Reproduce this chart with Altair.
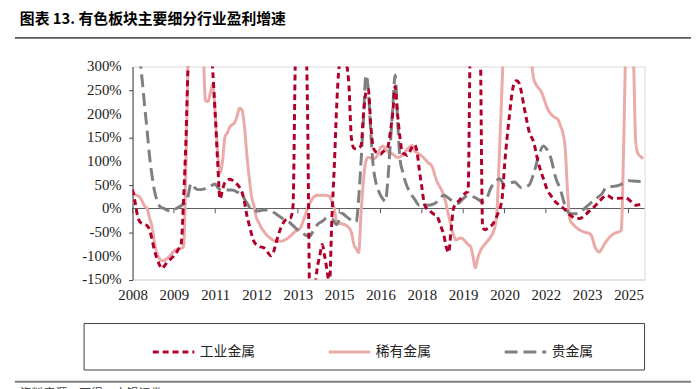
import altair as alt
import pandas as pd

# ---------------- data ----------------
title_text = "图表 13. 有色板块主要细分行业盈利增速"
source_text = "资料来源：万得，中银证券"
series_names = ["工业金属", "稀有金属", "贵金属"]
series_colors = ["#B0002A", "#EBAAA8", "#7F7F7F"]
series_dash = [[6, 4], [1, 0], [13, 6]]
y_ticks = [-150, -100, -50, 0, 50, 100, 150, 200, 250, 300]
start_year, start_month = 2008, 3           # month index 0 = 2008-03
x_tick_months = [0, 17, 34, 51, 68, 85, 102, 119, 136, 153, 170, 187, 204]

# 工业金属 (months since 2008-03, growth %)
ind_m = [0, 1, 2, 3, 5, 6, 7, 8, 9, 10, 11, 12, 13, 14, 15, 16, 17, 18, 19, 20,
         21, 22, 23, 24, 26, 28, 30, 32, 33, 34, 35, 36, 37, 38, 40, 42, 44, 45, 46, 47,
         48, 49, 50, 52, 54, 55, 57, 58, 59, 61, 63, 65, 66, 67, 68, 70, 71, 72, 73, 74,
         75, 76, 77, 78, 79, 80, 81, 82, 83, 84, 85, 86, 87, 88, 89, 90, 91, 92, 93, 94,
         95, 96, 97, 98, 99, 100, 101, 102, 103, 104, 105, 106, 107, 108, 109, 110, 111, 112, 113, 114,
         115, 116, 117, 118, 119, 120, 121, 122, 123, 124, 125, 126, 127, 128, 129, 130, 131, 132, 133, 134,
         135, 136, 137, 138, 139, 140, 142, 143, 144, 145, 146, 147, 148, 149, 150, 152, 153, 155, 156, 157,
         158, 159, 160, 161, 162, 163, 165, 167, 169, 171, 172, 174, 176, 178, 180, 182, 184, 186, 188, 190,
         192, 195, 198, 201, 203, 205, 207, 209, 210]
ind_v = [40, 15, -14, -28, -34, -36, -45, -65, -88, -105, -118, -127, -122, -115, -110, -105, -100, -93, -85, -75,
         20, 150, 330, 430, 500, 520, 480, 360, 290, 200, 100, 20, 40, 55, 62, 56, 45, 35, 15, -14,
         -35, -55, -70, -80, -83, -88, -100, -92, -73, -41, -24, -20, 5, 330, 480, 480, 430, 200, -220, -230,
         -170, -125, -100, -76, -100, -130, -160, -20, 90, 220, 300, 315, 315, 305, 260, 150, 128, 126, 128, 133,
         200, 245, 252, 175, 130, 120, 118, 115, 120, 124, 130, 160, 200, 258, 200, 150, 118, 115, 112, 120,
         130, 135, 120, 80, 45, 10, 0, -3, -8, -12, -14, -25, -40, -55, -80, -93, -48, 0, 10, 15,
         21, 28, 33, 36, 400, 550, 550, 380, -40, -45, -42, -38, -34, -25, -14, 21, 90, 195, 240, 265,
         270, 265, 245, 216, 190, 165, 140, 95, 63, 35, 28, 14, 6, -3, -14, -20, -21, -14, -5, 4,
         15, 28, 21, 22, 22, 15, 7, 9, 11]

# 稀有金属
rare_m = [0, 1, 3, 4, 5, 6, 7, 8, 9, 10, 11, 12, 13, 14, 15, 16, 17, 18, 19, 20,
          21, 22, 23, 24, 26, 28, 29, 30, 31, 32, 33, 34, 35, 36, 37, 38, 39, 40, 42, 43,
          44, 45, 46, 47, 48, 49, 50, 51, 52, 53, 54, 55, 56, 57, 59, 61, 64, 67, 69, 71,
          72, 74, 76, 79, 81, 82, 83, 84, 86, 88, 90, 91, 92, 93, 94, 95, 96, 97, 99, 101,
          102, 103, 104, 105, 107, 109, 111, 113, 114, 115, 116, 118, 120, 122, 123, 125, 127, 128, 130, 132,
          133, 135, 137, 138, 139, 140, 141, 142, 143, 145, 147, 149, 150, 151, 152, 153, 155, 158, 161, 163,
          164, 165, 166, 168, 171, 173, 175, 176, 177, 178, 179, 180, 181, 183, 186, 188, 189, 190, 191, 192,
          193, 194, 196, 198, 200, 201, 202, 203, 205, 206, 207, 208, 209, 210]
rare_v = [35, 30, 24, 15, 5, 0, -20, -38, -70, -94, -105, -110, -110, -106, -102, -96, -90, -87, -85, -84,
          -80, 100, 350, 450, 500, 450, 350, 228, 226, 245, 262, 200, 120, 76, 100, 150, 160, 172, 182, 195,
          212, 208, 175, 115, 65, 25, 5, -20, -30, -41, -48, -55, -60, -64, -69, -69, -62, -48, -41, -14,
          0, 21, 28, 28, 26, 14, 0, -30, -32, -36, -50, -75, -85, -93, -10, 60, 100, 108, 105, 115,
          129, 132, 126, 120, 115, 108, 112, 125, 130, 133, 122, 115, 106, 95, 91, 60, 40, 28, -14, -55,
          -66, -62, -70, -76, -80, -100, -125, -105, -90, -75, -62, -40, 5, 130, 260, 400, 550, 600, 550, 420,
          320, 275, 262, 248, 208, 195, 188, 175, 160, 125, 30, -25, -32, -42, -50, -53, -60, -78, -88, -92,
          -85, -76, -62, -53, -49, -46, 130, 360, 450, 330, 140, 115, 110, 105]

# 贵金属
prec_m = [0, 1, 2, 3, 4, 5, 6, 7, 8, 9, 10, 11, 12, 13, 14, 15, 16, 17, 18, 19,
          20, 21, 22, 23, 24, 25, 26, 27, 28, 29, 30, 31, 32, 33, 34, 35, 36, 37, 39, 41,
          43, 45, 47, 49, 50, 52, 54, 56, 58, 60, 62, 64, 66, 68, 70, 72, 73, 74, 76, 78,
          80, 82, 84, 86, 88, 90, 92, 93, 94, 95, 96, 97, 98, 99, 100, 101, 102, 103, 104, 105,
          106, 107, 108, 109, 110, 111, 112, 114, 116, 118, 121, 124, 126, 128, 131, 134, 136, 138, 140, 142,
          144, 146, 147, 149, 151, 153, 155, 157, 160, 163, 165, 167, 169, 170, 172, 174, 176, 178, 180, 183,
          185, 187, 189, 191, 193, 195, 198, 200, 202, 204, 206, 209]
prec_v = [600, 500, 400, 320, 270, 215, 165, 110, 70, 38, 18, 6, 2, 0, -3, -5, -6, -3, 0, 3,
          6, 10, 13, 30, 53, 48, 42, 40, 40, 41, 42, 45, 47, 50, 52, 45, 40, 39, 39, 39,
          35, 28, 12, -3, -5, -5, -3, -3, -8, -15, -22, -27, -36, -45, -52, -58, -58, -50, -34, -27,
          -20, -22, -34, -10, -17, -25, -28, 20, 100, 190, 282, 250, 160, 90, 57, 40, 28, 20, 15, 60,
          133, 210, 282, 190, 105, 80, 60, 35, 20, 7, 7, 10, 18, 28, 18, 11, 21, 28, 25, 20,
          14, 25, 39, 55, 63, 49, 53, 56, 44, 49, 74, 110, 132, 128, 108, 66, 40, 5, -11, -11,
          -4, 5, 14, 22, 31, 45, 47, 49, 54, 59, 58, 57]


def month_label(i):
    t = (start_month - 1) + i
    return f"{start_year + t // 12}-{t % 12 + 1:02d}"


rows = []
for name, ms, vs in zip(series_names, [ind_m, rare_m, prec_m], [ind_v, rare_v, prec_v]):
    for m, v in zip(ms, vs):
        rows.append({"series": name, "t": m, "month": month_label(m), "v": v})
df = pd.DataFrame(rows)

# ---------------- chart ----------------
W, H = 518, 215.5
x_scale = alt.Scale(domain=[0, 210.6], nice=False, zero=False)
y_scale = alt.Scale(domain=[-150, 300], nice=False, zero=False)

legend_cfg = alt.Legend(
    title=None, orient="none", legendX=19, legendY=266, direction="horizontal",
    symbolType="stroke", symbolSize=1764, symbolStrokeWidth=3,
    labelFont="Noto Sans CJK SC", labelFontSize=14, labelColor="#222222",
    labelOffset=4, columnPadding=68, padding=0,
)

color_enc = alt.Color("series:N", scale=alt.Scale(domain=series_names, range=series_colors), legend=legend_cfg)
dash_enc = alt.StrokeDash("series:N", scale=alt.Scale(domain=series_names, range=series_dash), legend=legend_cfg)

x_axis = alt.Axis(values=x_tick_months, labelExpr="floor(2008 + (2 + datum.value) / 12)",
                  ticks=False, domainColor="#D9D9D9", domainWidth=1, labelFont="Liberation Serif",
                  labelFontSize=15, labelColor="#1a1a1a", labelPadding=8, grid=False, title=None,
                  labelFlush=False, labelOverlap=False)
y_axis = alt.Axis(values=y_ticks, labels=False, domainColor="#404040",
                  tickColor="#404040", tickSize=4, grid=False, title=None)

X = alt.X("t:Q", scale=x_scale, axis=x_axis)
Y = alt.Y("v:Q", scale=y_scale, axis=y_axis)

one = pd.DataFrame({"a": [0]})

zero_rule = alt.Chart(pd.DataFrame({"v": [0]})).mark_rule(color="#595959", strokeWidth=1).encode(y=Y)
zero_ticks = alt.Chart(pd.DataFrame({"t": x_tick_months})).mark_rule(color="#595959", strokeWidth=1).encode(
    x=X, y=alt.datum(0), y2=alt.datum(-10),
)
y_labels = alt.Chart(pd.DataFrame({"v": y_ticks})).transform_calculate(
    lab="datum.v + '%'"
).mark_text(align="right", baseline="middle", font="Liberation Serif", fontSize=15, color="#1a1a1a").encode(
    y=Y, x=alt.value(-11), text="lab:N"
)

base = alt.Chart(df).mark_line(clip=True, strokeWidth=3, interpolate="monotone").encode(
    x=X, y=Y, color=color_enc, strokeDash=dash_enc,
)
pink = base.transform_filter(alt.datum.series == "稀有金属")
gray = base.transform_filter(alt.datum.series == "贵金属")
red = base.transform_filter(alt.datum.series == "工业金属")

title = alt.Chart(one).mark_text(align="left", baseline="middle", font="Noto Sans CJK SC",
                                 fontWeight="bold", fontSize=15, color="#000000").encode(
    x=alt.value(-114), y=alt.value(-48), text=alt.value(title_text))
title_line = alt.Chart(one).mark_rule(color="#595959", strokeWidth=2).encode(
    x=alt.value(-119), x2=alt.value(565), y=alt.value(-29))
legend_box = alt.Chart(one).mark_rect(fillOpacity=0, stroke="#404040", strokeWidth=1).encode(
    x=alt.value(-49), x2=alt.value(518), y=alt.value(260), y2=alt.value(307))
bottom_line = alt.Chart(one).mark_rule(color="#7F7F7F", strokeWidth=2).encode(
    x=alt.value(-119), x2=alt.value(565), y=alt.value(319))
source = alt.Chart(one).mark_text(align="left", baseline="top", font="Noto Sans CJK SC",
                                  fontSize=12, color="#404040").encode(
    x=alt.value(-114), y=alt.value(325), text=alt.value(source_text))

chart = alt.layer(
    zero_rule, zero_ticks, y_labels, pink, gray, red, title, title_line, legend_box, bottom_line, source
).properties(
    width=W, height=H,
    autosize=alt.AutoSizeParams(type="none"),
    padding={"left": 126, "top": 57, "right": 47, "bottom": 108},
).configure_view(stroke="#D9D9D9")

chart.save("out.html", embed_options={"renderer": "svg", "actions": False})
